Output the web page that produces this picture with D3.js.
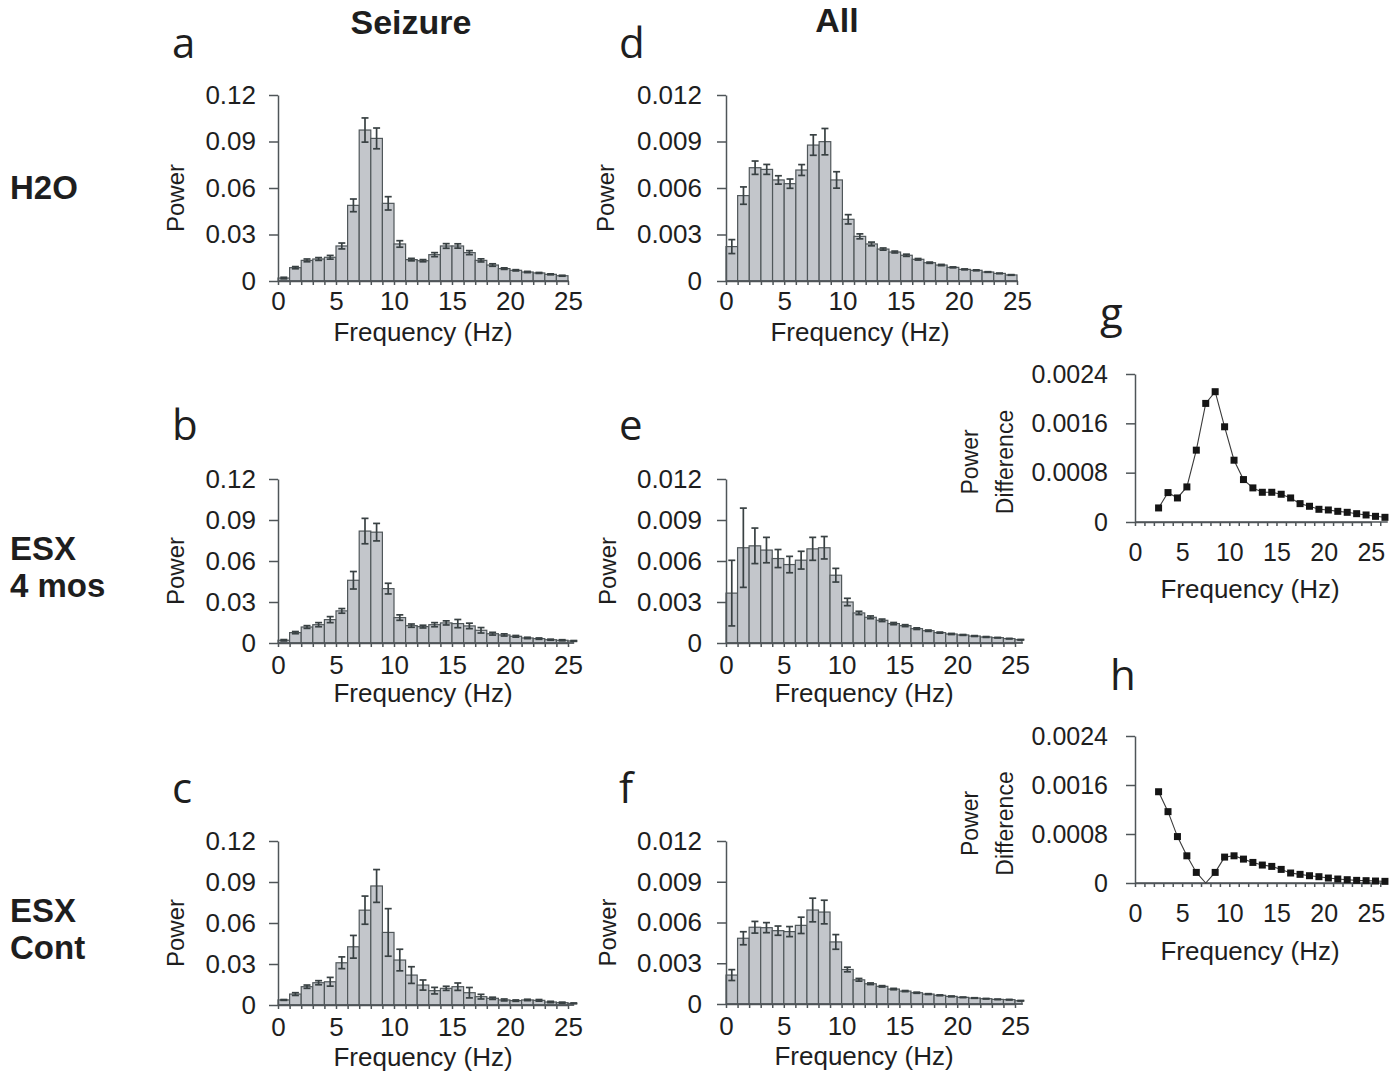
<!DOCTYPE html>
<html>
<head>
<meta charset="utf-8">
<script src="https://cdn.jsdelivr.net/npm/d3@7"></script>
<style>
  body { margin: 0; background: #fff; }
  svg { display: block; }
</style>
</head>
<body>
<div id="chart"></div>
<script>
// frequency bins (Hz, left edge of each 1 Hz bin)
var freqBins = [0,1,2,3,4,5,6,7,8,9,10,11,12,13,14,15,16,17,18,19,20,21,22,23,24,25];
// frequencies of the difference curves (bin centres)
var diffFreqs = [2.5,3.5,4.5,5.5,6.5,7.5,8.5,9.5,10.5,11.5,12.5,13.5,14.5,15.5,16.5,17.5,18.5,19.5,20.5,21.5,22.5,23.5,24.5,25.5,26.5];

// a: Seizure, H2O
var seizureH2O = [0.0019,0.0086,0.0133,0.0142,0.0153,0.0226,0.0488,0.0974,0.0920,0.0501,0.0239,0.0138,0.0131,0.0170,0.0226,0.0226,0.0183,0.0133,0.0103,0.0080,0.0069,0.0058,0.0052,0.0043,0.0034];
var seizureH2OErr = [0.0005,0.0007,0.0009,0.0009,0.0012,0.0019,0.0041,0.0078,0.0067,0.0043,0.0021,0.0008,0.0007,0.0013,0.0015,0.0014,0.0013,0.0010,0.0008,0.0005,0.0004,0.0004,0.0003,0.0003,0.0003];
// b: Seizure, ESX 4 mos
var seizureESX4 = [0.0020,0.0076,0.0117,0.0134,0.0171,0.0235,0.0459,0.0819,0.0811,0.0398,0.0186,0.0127,0.0120,0.0134,0.0147,0.0142,0.0125,0.0093,0.0068,0.0059,0.0049,0.0037,0.0032,0.0024,0.0020,0.0015];
var seizureESX4Err = [0.0005,0.0008,0.0010,0.0015,0.0022,0.0017,0.0064,0.0093,0.0064,0.0039,0.0020,0.0012,0.0010,0.0015,0.0015,0.0030,0.0020,0.0020,0.0010,0.0008,0.0006,0.0005,0.0005,0.0004,0.0004,0.0003];
// c: Seizure, ESX Cont
var seizureESXCont = [0.0037,0.0080,0.0134,0.0163,0.0170,0.0309,0.0426,0.0694,0.0871,0.0531,0.0329,0.0219,0.0146,0.0105,0.0122,0.0134,0.0090,0.0061,0.0049,0.0037,0.0032,0.0037,0.0034,0.0022,0.0017,0.0012];
var seizureESXContErr = [0.0003,0.0010,0.0012,0.0015,0.0032,0.0043,0.0083,0.0103,0.0120,0.0174,0.0079,0.0061,0.0037,0.0024,0.0015,0.0027,0.0038,0.0017,0.0008,0.0007,0.0005,0.0005,0.0006,0.0005,0.0004,0.0003];
// d: All, H2O
var allH2O = [0.00222,0.00551,0.00731,0.00720,0.00652,0.00628,0.00716,0.00877,0.00899,0.00652,0.00398,0.00288,0.00239,0.00206,0.00187,0.00166,0.00140,0.00118,0.00103,0.00088,0.00075,0.00069,0.00058,0.00049,0.00039];
var allH2OErr = [0.00045,0.00056,0.00043,0.00032,0.00027,0.00030,0.00035,0.00066,0.00085,0.00053,0.00030,0.00016,0.00012,0.00007,0.00006,0.00007,0.00005,0.00004,0.00004,0.00003,0.00003,0.00003,0.00002,0.00002,0.00002];
// e: All, ESX 4 mos
var allESX4 = [0.00365,0.00697,0.00711,0.00680,0.00618,0.00574,0.00606,0.00689,0.00697,0.00496,0.00300,0.00220,0.00188,0.00166,0.00142,0.00127,0.00105,0.00090,0.00076,0.00066,0.00059,0.00051,0.00044,0.00039,0.00032,0.00024];
var allESX4Err = [0.00240,0.00290,0.00130,0.00093,0.00066,0.00060,0.00065,0.00084,0.00082,0.00050,0.00027,0.00012,0.00010,0.00009,0.00008,0.00007,0.00006,0.00005,0.00004,0.00004,0.00003,0.00003,0.00003,0.00002,0.00002,0.00002];
// f: All, ESX Cont
var allESXCont = [0.00213,0.00484,0.00565,0.00562,0.00540,0.00533,0.00579,0.00692,0.00677,0.00457,0.00254,0.00178,0.00149,0.00130,0.00110,0.00095,0.00083,0.00073,0.00064,0.00056,0.00049,0.00044,0.00039,0.00034,0.00032,0.00024];
var allESXContErr = [0.00040,0.00048,0.00043,0.00037,0.00034,0.00037,0.00060,0.00087,0.00087,0.00054,0.00017,0.00010,0.00006,0.00005,0.00005,0.00004,0.00004,0.00003,0.00003,0.00003,0.00002,0.00002,0.00002,0.00002,0.00002,0.00002];
// g, h: power difference
var diffESX4 = [0.000228,0.000477,0.000390,0.000569,0.001165,0.001923,0.002113,0.001544,0.001002,0.000688,0.000553,0.000482,0.000482,0.000450,0.000390,0.000298,0.000255,0.000206,0.000195,0.000173,0.000157,0.000135,0.000114,0.000092,0.000076];
var diffESXCont = [0.001490,0.001165,0.000758,0.000444,0.000173,0,0.000173,0.000423,0.000444,0.000390,0.000336,0.000293,0.000271,0.000222,0.000163,0.000141,0.000119,0.000103,0.000081,0.000065,0.000054,0.000043,0.000038,0.000032,0.000027];

var seizureTicks = [0, 0.03, 0.06, 0.09, 0.12];
var allTicks = [0, 0.003, 0.006, 0.009, 0.012];
var diffTicks = [0, 0.0008, 0.0016, 0.0024];
var freqLabelTicks = [0, 5, 10, 15, 20, 25];
var diffMinorTicks = [0,1,2,3,4,5,6,7,8,9,10,11,12,13,14,15,16,17,18,19,20,21,22,23,24,25,26];

var font = '"Liberation Sans", Arial, Helvetica, sans-serif';
var axisColor = '#4f5558';
var barFill = '#c3c6cb';
var barStroke = '#50575a';
var errColor = '#394143';
var textColor = '#1e1e1e';

var svg = d3.select('#chart').append('svg')
  .attr('width', 1400)
  .attr('height', 1071);

function fmt(spec){
  var f = d3.format(spec);
  return function(d){ return d === 0 ? '0' : f(d); };
}

function drawAxes(g, x, y, p, minorTicks, yFormat, yTicks){
  // y axis
  g.append('g')
    .attr('transform', 'translate(' + x(0) + ',0)')
    .call(d3.axisLeft(y).tickValues(yTicks).tickFormat(yFormat)
      .tickSize(9).tickSizeOuter(0).tickPadding(p.yPad))
    .call(function(s){
      s.selectAll('path, line').attr('stroke', axisColor).attr('stroke-width', 1.5);
      s.selectAll('text').attr('fill', textColor).style('font-size', p.tickFont + 'px').style('font-family', font);
    });

  // x axis, minor ticks every 1 Hz
  g.append('g')
    .attr('transform', 'translate(0,' + y(0) + ')')
    .call(d3.axisBottom(x).tickValues(minorTicks).tickFormat('')
      .tickSize(4).tickSizeOuter(0))
    .call(function(s){
      s.selectAll('path, line').attr('stroke', axisColor).attr('stroke-width', 1.5);
    });

  // x labels
  g.append('g')
    .attr('transform', 'translate(0,' + y(0) + ')')
    .call(d3.axisBottom(x).tickValues(freqLabelTicks).tickFormat(d3.format('d'))
      .tickSize(0).tickPadding(p.xPad))
    .call(function(s){
      s.select('.domain').remove();
      s.selectAll('text').attr('fill', textColor).style('font-size', p.tickFont + 'px').style('font-family', font);
    });

  g.append('text')
    .attr('x', p.xLabelX)
    .attr('y', y(0) + p.xLabelDy)
    .attr('text-anchor', 'middle')
    .attr('fill', textColor)
    .style('font-family', font)
    .style('font-size', '26px')
    .text('Frequency (Hz)');
}

function drawBarPanel(p){
  var g = svg.append('g').classed('panel-' + p.letter, true);
  var x = d3.scaleLinear().domain([0, 25]).range([p.x0, p.x25]);
  var y = d3.scaleLinear().domain([0, p.yMax]).range([p.yBot, p.yTop]);
  var rows = p.values.map(function(v, i){ return { f: freqBins[i], v: v, e: p.errs[i] }; });

  g.selectAll('rect.bar')
    .data(rows)
    .enter()
    .append('rect')
    .classed('bar', true)
    .attr('x', function(d){ return x(d.f); })
    .attr('y', function(d){ return y(d.v); })
    .attr('width', function(d){ return x(Math.min(d.f + 1, p.xEnd)) - x(d.f); })
    .attr('height', function(d){ return y(0) - y(d.v); })
    .attr('fill', barFill)
    .attr('stroke', barStroke)
    .attr('stroke-width', 1.2);

  var eb = g.selectAll('g.err')
    .data(rows)
    .enter()
    .append('g')
    .classed('err', true)
    .attr('transform', function(d){ return 'translate(' + x(d.f + 0.5) + ',0)'; })
    .attr('stroke', errColor)
    .attr('stroke-width', 1.7);
  eb.append('line')
    .attr('y1', function(d){ return y(d.v - d.e); })
    .attr('y2', function(d){ return y(d.v + d.e); });
  eb.append('line')
    .attr('x1', -3.5).attr('x2', 3.5)
    .attr('y1', function(d){ return y(d.v + d.e); })
    .attr('y2', function(d){ return y(d.v + d.e); });
  eb.append('line')
    .attr('x1', -3.5).attr('x2', 3.5)
    .attr('y1', function(d){ return y(d.v - d.e); })
    .attr('y2', function(d){ return y(d.v - d.e); });

  var minor = freqBins.filter(function(f){ return f <= p.xEnd; });
  drawAxes(g, x, y, p, minor, fmt(p.yFmt), p.yTicks);

  // baseline reaching the end of the bars
  g.append('line')
    .attr('x1', x(0)).attr('x2', x(p.xEnd) + 1)
    .attr('y1', y(0)).attr('y2', y(0))
    .attr('stroke', axisColor).attr('stroke-width', 1.5);

  g.append('text')
    .attr('transform', 'translate(' + p.yLabelX + ',' + ((p.yTop + p.yBot) / 2 + 10) + ') rotate(-90)')
    .attr('text-anchor', 'middle')
    .attr('dy', '0.35em')
    .attr('fill', textColor)
    .style('font-family', font)
    .style('font-size', '24px')
    .text('Power');
}

function drawDiffPanel(p){
  var g = svg.append('g').classed('panel-' + p.letter, true);
  var x = d3.scaleLinear().domain([0, 25]).range([p.x0, p.x25]);
  var y = d3.scaleLinear().domain([0, 0.0024]).range([p.yBot, p.yTop]);
  var rows = p.values.map(function(v, i){ return { f: diffFreqs[i], v: v }; });

  drawAxes(g, x, y, p, diffMinorTicks, fmt('.4f'), diffTicks);
  g.append('line')
    .attr('x1', x(0)).attr('x2', x(p.xEnd))
    .attr('y1', y(0)).attr('y2', y(0))
    .attr('stroke', axisColor).attr('stroke-width', 1.5);

  g.append('path')
    .datum(rows)
    .attr('fill', 'none')
    .attr('stroke', '#3a3a3a')
    .attr('stroke-width', 1.1)
    .attr('d', d3.line().x(function(d){ return x(d.f); }).y(function(d){ return y(d.v); }));

  g.selectAll('rect.pt')
    .data(rows.filter(function(d){ return d.v > 0; }))
    .enter()
    .append('rect')
    .classed('pt', true)
    .attr('x', function(d){ return x(d.f) - 3.5; })
    .attr('y', function(d){ return y(d.v) - 3.5; })
    .attr('width', 7)
    .attr('height', 7)
    .attr('fill', '#151515');

  var yc = (p.yTop + p.yBot) / 2 + 14;
  [['Power', 970], ['Difference', 1005]].forEach(function(t){
    g.append('text')
      .attr('transform', 'translate(' + t[1] + ',' + yc + ') rotate(-90)')
      .attr('text-anchor', 'middle')
      .attr('dy', '0.35em')
      .attr('fill', textColor)
      .style('font-family', font)
      .style('font-size', '23px')
      .text(t[0]);
  });
}

var barPanels = [
  { letter: 'a', values: seizureH2O, errs: seizureH2OErr, x0: 278, x25: 568, xEnd: 25, yTop: 95, yBot: 281, yMax: 0.12, yTicks: seizureTicks, yFmt: '.2f', yLabelX: 176, xLabelX: 423, xLabelDy: 60, xPad: 11, yPad: 13, tickFont: 26 },
  { letter: 'b', values: seizureESX4, errs: seizureESX4Err, x0: 278, x25: 568, xEnd: 25.45, yTop: 479, yBot: 643, yMax: 0.12, yTicks: seizureTicks, yFmt: '.2f', yLabelX: 176, xLabelX: 423, xLabelDy: 59, xPad: 13, yPad: 13, tickFont: 26 },
  { letter: 'c', values: seizureESXCont, errs: seizureESXContErr, x0: 278, x25: 568, xEnd: 25.45, yTop: 841, yBot: 1005, yMax: 0.12, yTicks: seizureTicks, yFmt: '.2f', yLabelX: 176, xLabelX: 423, xLabelDy: 61, xPad: 13, yPad: 13, tickFont: 26 },
  { letter: 'd', values: allH2O, errs: allH2OErr, x0: 726, x25: 1017, xEnd: 25, yTop: 95, yBot: 281, yMax: 0.012, yTicks: allTicks, yFmt: '.3f', yLabelX: 606, xLabelX: 860, xLabelDy: 60, xPad: 11, yPad: 15, tickFont: 26 },
  { letter: 'e', values: allESX4, errs: allESX4Err, x0: 726, x25: 1015, xEnd: 25.6, yTop: 479, yBot: 643, yMax: 0.012, yTicks: allTicks, yFmt: '.3f', yLabelX: 608, xLabelX: 864, xLabelDy: 59, xPad: 13, yPad: 15, tickFont: 26 },
  { letter: 'f', values: allESXCont, errs: allESXContErr, x0: 726, x25: 1015, xEnd: 25.6, yTop: 841, yBot: 1004, yMax: 0.012, yTicks: allTicks, yFmt: '.3f', yLabelX: 608, xLabelX: 864, xLabelDy: 61, xPad: 13, yPad: 15, tickFont: 26 }
];
barPanels.forEach(drawBarPanel);

var diffPanels = [
  { letter: 'g', values: diffESX4, x0: 1135, x25: 1370.8, xEnd: 26.8, yTop: 374, yBot: 522, xLabelX: 1250, xLabelDy: 76, xPad: 21, yPad: 18, tickFont: 25 },
  { letter: 'h', values: diffESXCont, x0: 1135, x25: 1370.8, xEnd: 26.8, yTop: 736, yBot: 883, xLabelX: 1250, xLabelDy: 77, xPad: 21, yPad: 18, tickFont: 25 }
];
diffPanels.forEach(drawDiffPanel);

// panel letters
var letters = [['a', 172, 58], ['d', 619, 58], ['b', 172, 440], ['e', 619, 440], ['c', 172, 803], ['f', 619, 803], ['g', 1100, 328], ['h', 1110, 690]];
svg.selectAll('text.letter')
  .data(letters)
  .enter()
  .append('text')
  .classed('letter', true)
  .attr('x', function(d){ return d[1]; })
  .attr('y', function(d){ return d[2]; })
  .attr('fill', textColor)
  .style('font-family', '"Open Sans", "Noto Sans", sans-serif')
  .style('font-size', '42px')
  .text(function(d){ return d[0]; });

// column headers
var headers = [['Seizure', 411, 34], ['All', 837, 32]];
svg.selectAll('text.header')
  .data(headers)
  .enter()
  .append('text')
  .classed('header', true)
  .attr('x', function(d){ return d[1]; })
  .attr('y', function(d){ return d[2]; })
  .attr('text-anchor', 'middle')
  .attr('fill', textColor)
  .style('font-family', font)
  .style('font-weight', 700)
  .style('font-size', '34px')
  .text(function(d){ return d[0]; });

// row labels
var rowLabels = [['H2O', 199], ['ESX', 560], ['4 mos', 597], ['ESX', 922], ['Cont', 959]];
svg.selectAll('text.rowlab')
  .data(rowLabels)
  .enter()
  .append('text')
  .classed('rowlab', true)
  .attr('x', 10)
  .attr('y', function(d){ return d[1]; })
  .attr('fill', textColor)
  .style('font-family', font)
  .style('font-weight', 700)
  .style('font-size', '33px')
  .text(function(d){ return d[0]; });
</script>
</body>
</html>
